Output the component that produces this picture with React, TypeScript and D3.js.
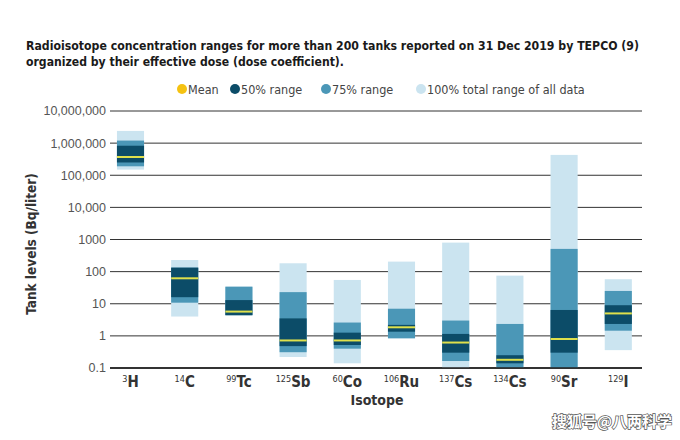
import React from "react";
import * as d3 from "d3";

const massNumbers = ["3", "14", "99", "125", "60", "106", "137", "134", "90", "129"];
const symbols = ["H", "C", "Tc", "Sb", "Co", "Ru", "Cs", "Cs", "Sr", "I"];
const min100 = [1.5e5, 4.0, 4.4, 0.22, 0.14, 0.84, 0.1, 0.1, 0.1, 0.36];
const max100 = [2.4e6, 230, 34, 182, 55, 205, 800, 75, 4.3e5, 58];
const min75 = [1.9e5, 10.8, 4.4, 0.31, 0.4, 0.84, 0.165, 0.1, 0.1, 1.45];
const max75 = [1.2e6, 133, 34, 23, 2.6, 7, 3.0, 2.35, 510, 25];
const min50 = [2.5e5, 16, 4.4, 0.48, 0.52, 1.35, 0.3, 0.14, 0.3, 2.35];
const max50 = [8.3e5, 133, 13, 3.5, 1.26, 2.2, 1.15, 0.25, 6.4, 9];
const means = [3.7e5, 62, 5.7, 0.72, 0.72, 1.85, 0.62, 0.18, 0.8, 5.0];
const yTicks = [0.1, 1, 10, 100, 1000, 10000, 100000, 1000000, 10000000];
const yTickLabels = ["0.1", "1", "10", "100", "1000", "10,000", "100,000", "1,000,000", "10,000,000"];
const legendLabels = ["Mean", "50% range", "75% range", "100% total range of all data"];

const COLORS = {
  light: "#cbe4f0",
  mid: "#4b97b7",
  dark: "#0c4c68",
  mean: "#dfe04c",
  meanDot: "#f5c211",
};

const COND = "'Liberation Sans Narrow', 'DejaVu Sans Condensed', 'Liberation Sans', Arial, sans-serif";
const SANS = "'Liberation Sans', Arial, sans-serif";

export default function App() {
  const width = 680;
  const height = 440;
  const ids = massNumbers.map((m, i) => m + symbols[i]);
  const x = d3.scaleBand<string>().domain(ids).range([103.4, 645.4]).paddingInner(0.5).paddingOuter(0.25);
  const y = d3.scaleLog().domain([0.1, 1e7]).range([368, 111]);
  const bw = x.bandwidth();

  const rect = (id: string, lo: number, hi: number, fill: string, key: string) => (
    <rect key={key} x={x(id)} y={y(hi)} width={bw} height={y(lo) - y(hi)} fill={fill} />
  );

  const legendItems = [
    { cx: 182, tx: 188, color: COLORS.meanDot, label: legendLabels[0] },
    { cx: 235, tx: 241, color: COLORS.dark, label: legendLabels[1] },
    { cx: 326, tx: 332, color: COLORS.mid, label: legendLabels[2] },
    { cx: 421, tx: 427, color: COLORS.light, label: legendLabels[3] },
  ];

  return (
    <svg width={width} height={height} style={{ position: "absolute", left: 0, top: 0, background: "#fff" }}>
      <rect x={0} y={0} width={width} height={height} fill="#fff" />
      <text x={26} y={50} fontFamily={COND} fontWeight="bold" fontSize={13} fill="#1a1a1a" textLength={613} lengthAdjust="spacingAndGlyphs">
        Radioisotope concentration ranges for more than 200 tanks reported on 31 Dec 2019 by TEPCO (9)
      </text>
      <text x={26} y={66} fontFamily={COND} fontWeight="bold" fontSize={13} fill="#1a1a1a" textLength={318} lengthAdjust="spacingAndGlyphs">
        organized by their effective dose (dose coefficient).
      </text>

      {legendItems.map((d, i) => (
        <g key={i}>
          <circle cx={d.cx} cy={89} r={5} fill={d.color} />
          <text x={d.tx} y={93.5} fontFamily={COND} fontSize={12.5} fill="#444">
            {d.label}
          </text>
        </g>
      ))}

      {yTicks.map((t, i) => (
        <g key={t}>
          <line x1={110} x2={642} y1={y(t)} y2={y(t)} stroke="#333" strokeWidth={i === 0 ? 1.6 : 1} />
          <text x={106} y={y(t)} dy="0.35em" textAnchor="end" fontFamily={SANS} fontSize={12.5} fill="#555">
            {yTickLabels[i]}
          </text>
        </g>
      ))}

      {ids.map((id, i) => (
        <g key={id}>
          {rect(id, min100[i], max100[i], COLORS.light, "l")}
          {rect(id, min75[i], max75[i], COLORS.mid, "m")}
          {rect(id, min50[i], max50[i], COLORS.dark, "d")}
          <line x1={x(id)} x2={(x(id) as number) + bw} y1={y(means[i])} y2={y(means[i])} stroke={COLORS.mean} strokeWidth={2} />
        </g>
      ))}
      <line x1={110} x2={642} y1={y(0.1)} y2={y(0.1)} stroke="#222" strokeWidth={1.6} />

      {ids.map((id, i) => (
        <text key={id} x={(x(id) as number) + bw / 2} y={387} textAnchor="middle" fontFamily={COND} fontWeight="bold" fill="#333">
          <tspan fontSize={9} fontWeight="normal" dy={-5}>{massNumbers[i]}</tspan>
          <tspan fontSize={15} dy={5}>{symbols[i]}</tspan>
        </text>
      ))}

      <text x={377} y={405} textAnchor="middle" fontFamily={COND} fontWeight="bold" fontSize={14} fill="#333">
        Isotope
      </text>
      <text transform="translate(36,244) rotate(-90)" textAnchor="middle" fontFamily={COND} fontWeight="bold" fontSize={13.5} fill="#333">
        Tank levels (Bq/liter)
      </text>

      <text x={672} y={427} textAnchor="end" fontFamily="'Noto Sans CJK SC', sans-serif" fontSize={15} fontWeight="bold" fill="#fff" stroke="#555" strokeWidth={1.4} style={{ paintOrder: "stroke" }}>
        搜狐号@八两科学
      </text>
    </svg>
  );
}
